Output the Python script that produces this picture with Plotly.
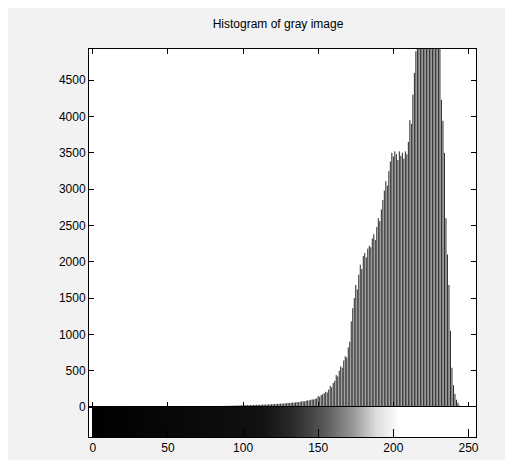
import plotly.graph_objects as go

# Gray levels (bins) and histogram counts
levels = list(range(256))
counts = [
    0, 0, 0, 0, 0, 0, 0, 0, 0, 0,            # 0-9
    0, 0, 0, 0, 0, 0, 0, 0, 0, 0,            # 10-19
    0, 0, 0, 0, 0, 0, 0, 0, 0, 0,            # 20-29
    0, 0, 0, 0, 0, 0, 0, 0, 1, 0,            # 30-39
    1, 0, 1, 1, 0, 1, 1, 2, 1, 1,            # 40-49
    2, 1, 2, 2, 3, 2, 3, 3, 2, 4,            # 50-59
    3, 4, 4, 5, 4, 5, 6, 5, 6, 7,            # 60-69
    6, 7, 8, 7, 8, 9, 8, 10, 9, 11,          # 70-79
    10, 12, 11, 13, 12, 14, 13, 15, 16, 15,  # 80-89
    17, 16, 18, 19, 18, 20, 21, 20, 22, 23,  # 90-99
    24, 23, 25, 26, 25, 27, 28, 27, 29, 30,  # 100-109
    31, 30, 32, 33, 34, 33, 35, 36, 37, 38,  # 110-119
    40, 39, 42, 44, 43, 46, 48, 47, 50, 53,  # 120-129
    55, 54, 58, 61, 60, 64, 68, 66, 72, 77,  # 130-139
    80, 78, 86, 92, 90, 98, 105, 102, 112, 120,          # 140-149
    150, 140, 165, 175, 190, 210, 200, 240, 290, 270,    # 150-159
    330, 360, 440, 420, 500, 560, 540, 640, 700, 680,    # 160-169
    820, 900, 1180, 1360, 1500, 1680, 1620, 1820, 1960, 1900,  # 170-179
    2080, 2120, 2060, 2180, 2220, 2200, 2320, 2380, 2300, 2480,  # 180-189
    2600, 2560, 2720, 2850, 2980, 3110, 3050, 3250, 3380, 3500,  # 190-199
    3450, 3520, 3480, 3400, 3520, 3460, 3500, 3420, 3520, 3480,  # 200-209
    3650, 3950, 3900, 4300, 4600, 4900, 5200, 5400, 5600, 5500,  # 210-219
    5800, 5900, 6000, 5800, 5900, 5700, 5600, 5800, 5500, 5400,  # 220-229
    5200, 5000, 4230, 3940, 3500, 2600, 2100, 1680, 1050, 540,   # 230-239
    300, 180, 100, 60, 20, 8, 3, 1, 0, 0,    # 240-249
    0, 0, 0, 0, 0, 0,                        # 250-255
]
x_ticks = [0, 50, 100, 150, 200, 250]
y_ticks = [0, 500, 1000, 1500, 2000, 2500, 3000, 3500, 4000, 4500]
gray_ramp = [levels]

# stem segments (x, x, gap) / (0, count, gap) built from the data
stem_x, stem_y = [], []
for lv, c in zip(levels, counts):
    stem_x += [lv, lv, None]
    stem_y += [0, c, None]

FONT = "Liberation Sans, Arial, sans-serif"

fig = go.Figure()
fig.add_trace(go.Scatter(x=stem_x, y=stem_y, mode="lines",
                         line=dict(color="#262626", width=1),
                         xaxis="x", yaxis="y", showlegend=False, hoverinfo="skip"))
fig.add_trace(go.Heatmap(z=gray_ramp, x=levels, y=[0.5], zmin=0, zmax=255,
                         colorscale=[[0, "#000000"], [0.44, "#111111"], [0.52, "#2a2a2a"],
                                     [0.6, "#555555"], [0.68, "#999999"], [0.74, "#dddddd"],
                                     [0.8, "#ffffff"], [1, "#ffffff"]],
                         showscale=False, xaxis="x2", yaxis="y2", hoverinfo="skip"))

xr = [-2.5, 255]
cb_frac = 30 / 388
fig.update_layout(
    width=513, height=460,
    margin=dict(l=81, r=45, t=41, b=31),
    paper_bgcolor="#f2f2f2", plot_bgcolor="white",
    font=dict(family=FONT, size=12, color="black"),
    title=dict(text="Histogram of gray image", x=270 / 513, xanchor="center",
               y=1 - 16 / 460, yanchor="middle", font=dict(family=FONT, size=12, color="black")),
    xaxis=dict(range=xr, domain=[0, 1], anchor="y", tickvals=x_ticks, showticklabels=False,
               ticks="inside", ticklen=5, tickcolor="black", showline=True, linecolor="black",
               linewidth=1, mirror="allticks", showgrid=False, zeroline=False),
    yaxis=dict(range=[0, 4930], domain=[cb_frac, 1], anchor="x", tickvals=y_ticks,
               ticks="inside", ticklen=5, tickcolor="black", showline=True, linecolor="black",
               linewidth=1, mirror="allticks", showgrid=False, zeroline=False),
    xaxis2=dict(range=xr, domain=[0, 1], anchor="y2", tickvals=x_ticks,
                ticks="inside", ticklen=8, tickcolor="black", showline=True, linecolor="black",
                linewidth=1, mirror=True, showgrid=False, zeroline=False),
    yaxis2=dict(range=[0, 1], domain=[0, cb_frac], anchor="x2", showticklabels=False,
                ticks="", showline=True, linecolor="black", linewidth=1, mirror=True,
                showgrid=False, zeroline=False),
)

fig.write_html("out.html")
